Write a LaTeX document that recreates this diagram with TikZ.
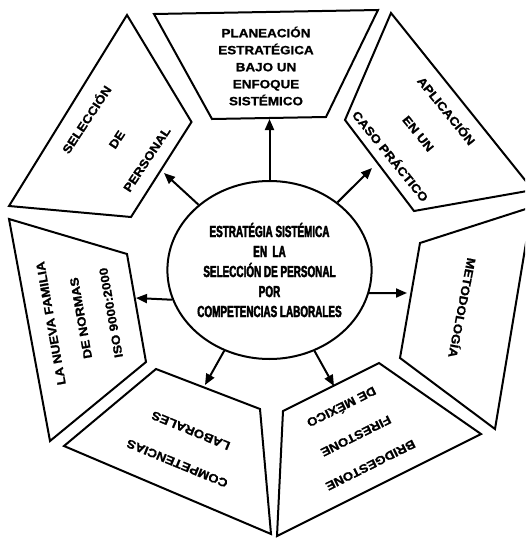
\documentclass[tikz,border=0pt]{standalone}
\usepackage{fontspec}
\setmainfont{Liberation Sans}
\newfontfamily\panelfont[FakeStretch=1.12,FakeBold=1.2]{Liberation Sans}
\newfontfamily\corefont[FakeStretch=0.62,FakeBold=2.6]{Liberation Sans}
\usetikzlibrary{arrows.meta,shapes.geometric}
\begin{document}
\begin{tikzpicture}[x=1pt,y=-1pt,
  panel/.style={draw, line width=2pt, line join=miter},
  ptext/.style={font=\panelfont\bfseries\fontsize{12}{#1}\selectfont, align=center, inner sep=0pt},
  arr/.style={line width=2pt, -{Triangle[length=11pt,width=9pt]}}]
\useasboundingbox (0,0) rectangle (525,538);
\clip (0,0) rectangle (525,538);

% panels
\draw[panel] (154,14) -- (378,10) -- (326,117) -- (212,119) -- cycle;
\draw[panel] (127,15) -- (191.5,122) -- (131,217) -- (9,206) -- cycle;
\draw[panel] (391,13) -- (533,190) -- (414,211) -- (345,120) -- cycle;
\draw[panel] (420,243) -- (532,207) -- (495,429) -- (400,358) -- cycle;
\draw[panel] (283,411) -- (379,363) -- (481,434) -- (277,536) -- cycle;
\draw[panel] (156,369) -- (260,409) -- (271,534) -- (64,446) -- cycle;
\draw[panel] (9,219) -- (127,254) -- (146,362) -- (50,441) -- cycle;

% centre
\node[draw, ellipse, line width=2pt, minimum width=201pt, minimum height=178pt,
      inner sep=0pt, align=center, font=\corefont\bfseries\fontsize{16}{20}\selectfont]
      (c) at (269.5,270) {ESTRATÉGIA SISTÉMICA\\EN\ \ LA\\SELECCIÓN DE PERSONAL\\POR\\COMPETENCIAS LABORALES};

% labels
\node[ptext=17pt] (lT) at (266,66) {PLANEACIÓN\\ESTRATÉGICA\\BAJO UN\\ENFOQUE\\SISTÉMICO};
\node[ptext=36pt, rotate=56.5] (lUL) at (116,139) {SELECCIÓN\\DE\\PERSONAL};
\node[ptext=36pt, rotate=-51] (lUR) at (419,133) {APLICACIÓN\\EN UN\\CASO PRÁCTICO};
\node[ptext=15pt, rotate=-101] (lR) at (463,308) {METODOLOGÍA};
\node[ptext=30.5pt, rotate=100] (lL) at (81,318) {LA NUEVA FAMILIA\\DE NORMAS\\ISO 9000:2000};
\node[ptext=35.5pt, rotate=157.6] (lBL) at (184,447) {COMPETENCIAS\\LABORALES};
\node[ptext=32.6pt, rotate=206.6] (lBR) at (356,436) {BRIDGESTONE\\FIRESTONE\\DE MÉXICO};

% arrow targets
\coordinate (aT) at (269.5,119);
\coordinate (aUL) at (164,173);
\coordinate (aUR) at (372,168);
\coordinate (aR) at (407,293);
\coordinate (aL) at (136,298);
\coordinate (aBL) at (205,385);
\coordinate (aBR) at (334,386);

\draw[arr] (c) -- (aT);
\draw[arr] (c) -- (aUL);
\draw[arr] (c) -- (aUR);
\draw[arr] (c.-13) -- (aR);
\draw[arr] (c.197) -- (aL);
\draw[arr] (c) -- (aBL);
\draw[arr] (c) -- (aBR);
\end{tikzpicture}
\end{document}
